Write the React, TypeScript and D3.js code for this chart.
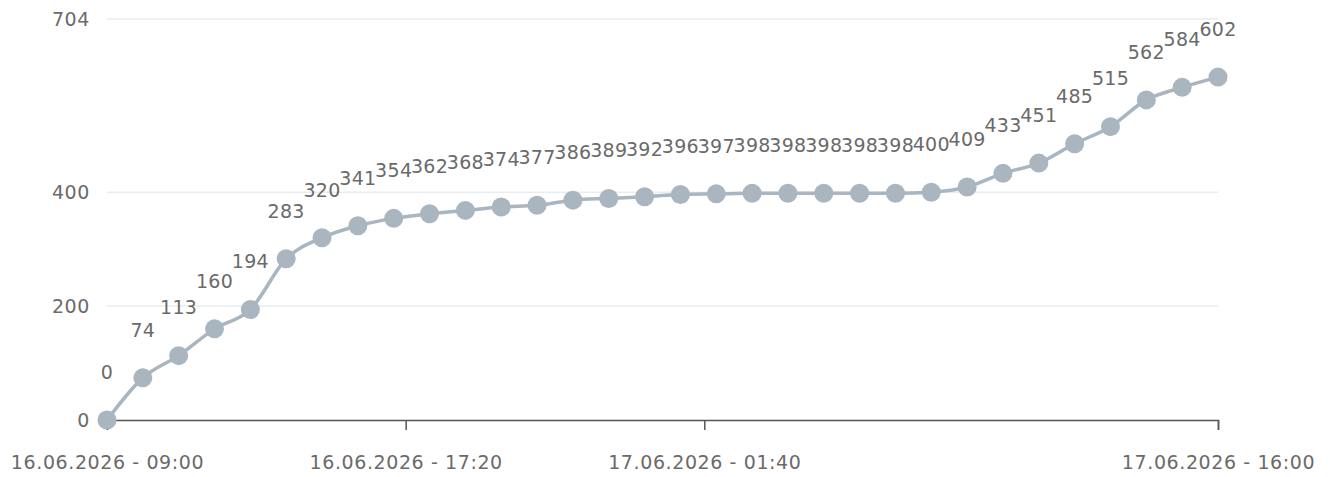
import { useEffect, useRef } from "react";
import * as d3 from "d3";

// hourly readings
const times: string[] = [
  "2026-06-16T09:00", "2026-06-16T10:00", "2026-06-16T11:00", "2026-06-16T12:00",
  "2026-06-16T13:00", "2026-06-16T14:00", "2026-06-16T15:00", "2026-06-16T16:00",
  "2026-06-16T17:00", "2026-06-16T18:00", "2026-06-16T19:00", "2026-06-16T20:00",
  "2026-06-16T21:00", "2026-06-16T22:00", "2026-06-16T23:00", "2026-06-17T00:00",
  "2026-06-17T01:00", "2026-06-17T02:00", "2026-06-17T03:00", "2026-06-17T04:00",
  "2026-06-17T05:00", "2026-06-17T06:00", "2026-06-17T07:00", "2026-06-17T08:00",
  "2026-06-17T09:00", "2026-06-17T10:00", "2026-06-17T11:00", "2026-06-17T12:00",
  "2026-06-17T13:00", "2026-06-17T14:00", "2026-06-17T15:00", "2026-06-17T16:00",
];

const values: number[] = [
  0, 74, 113, 160, 194, 283, 320, 341, 354, 362, 368, 374, 377, 386, 389, 392,
  396, 397, 398, 398, 398, 398, 398, 400, 409, 433, 451, 485, 515, 562, 584, 602,
];

const xTicks: string[] = [
  "2026-06-16T09:00", "2026-06-16T17:20", "2026-06-17T01:40", "2026-06-17T16:00",
];
const yTicks: number[] = [0, 200, 400, 704];

const WIDTH = 1330;
const HEIGHT = 477;
const FONT = "'DejaVu Sans', sans-serif";
const TEXT = "#6a6a6a";
const LINE = "#a9b5bf";

const parse = d3.timeParse("%Y-%m-%dT%H:%M");

const App = () => {
  const svgRef = useRef<SVGSVGElement>(null);

  useEffect(() => {
    if (!svgRef.current) return;
    const svg = d3.select(svgRef.current);
    svg.selectAll("*").remove();

    const data = times.map((t, i) => ({ date: parse(t) as Date, value: values[i] }));

    const x = d3
      .scaleTime()
      .domain([parse(times[0]) as Date, parse(times[times.length - 1]) as Date])
      .range([107, 1218]);
    const y = d3.scaleLinear().domain([0, 704]).range([420, 19]);

    // grid
    svg
      .append("g")
      .selectAll("line")
      .data(yTicks.filter((d) => d > 0))
      .join("line")
      .attr("x1", x.range()[0])
      .attr("x2", x.range()[1])
      .attr("y1", (d) => y(d))
      .attr("y2", (d) => y(d))
      .attr("stroke", "#e8ecf0")
      .attr("stroke-width", 1.5);

    // y labels
    svg
      .append("g")
      .selectAll("text")
      .data(yTicks)
      .join("text")
      .attr("x", 90)
      .attr("y", (d) => y(d))
      .attr("dy", "0.36em")
      .attr("text-anchor", "end")
      .style("font-family", FONT)
      .style("font-size", "19px")
      .style("letter-spacing", "0.6px")
      .style("fill", TEXT)
      .text((d) => d);

    // x axis
    const xAxis = svg
      .append("g")
      .attr("transform", `translate(0,${y(0)})`)
      .call(
        d3
          .axisBottom(x)
          .tickValues(xTicks.map((t) => parse(t) as Date))
          .tickSizeOuter(0)
          .tickSize(10)
          .tickPadding(26)
          .tickFormat((d) => d3.timeFormat("%d.%m.%Y - %H:%M")(d as Date))
      );
    xAxis.select(".domain").attr("stroke", "#555").attr("stroke-width", 1.5);
    xAxis.selectAll(".tick line").attr("stroke", "#555").attr("stroke-width", 1.5);
    xAxis
      .selectAll(".tick text")
      .style("font-family", FONT)
      .style("font-size", "19px")
      .style("letter-spacing", "0.6px")
      .style("fill", TEXT);

    // line
    const line = d3
      .line<{ date: Date; value: number }>()
      .x((d) => x(d.date))
      .y((d) => y(d.value))
      .curve(d3.curveMonotoneX);

    svg
      .append("path")
      .datum(data)
      .attr("d", line)
      .attr("fill", "none")
      .attr("stroke", LINE)
      .attr("stroke-width", 3.5);

    // points
    svg
      .append("g")
      .selectAll("circle")
      .data(data)
      .join("circle")
      .attr("cx", (d) => x(d.date))
      .attr("cy", (d) => y(d.value))
      .attr("r", 9.5)
      .attr("fill", LINE);

    // value labels
    svg
      .append("g")
      .selectAll("text")
      .data(data)
      .join("text")
      .attr("x", (d) => x(d.date))
      .attr("y", (d) => y(d.value) - 48)
      .attr("dy", "0.36em")
      .attr("text-anchor", "middle")
      .style("font-family", FONT)
      .style("font-size", "19px")
      .style("letter-spacing", "0.3px")
      .style("fill", TEXT)
      .text((d) => d.value);
  }, []);

  return (
    <svg
      ref={svgRef}
      width={WIDTH}
      height={HEIGHT}
      style={{ position: "absolute", left: 0, top: 0, background: "#fff" }}
    />
  );
};

export default App;
